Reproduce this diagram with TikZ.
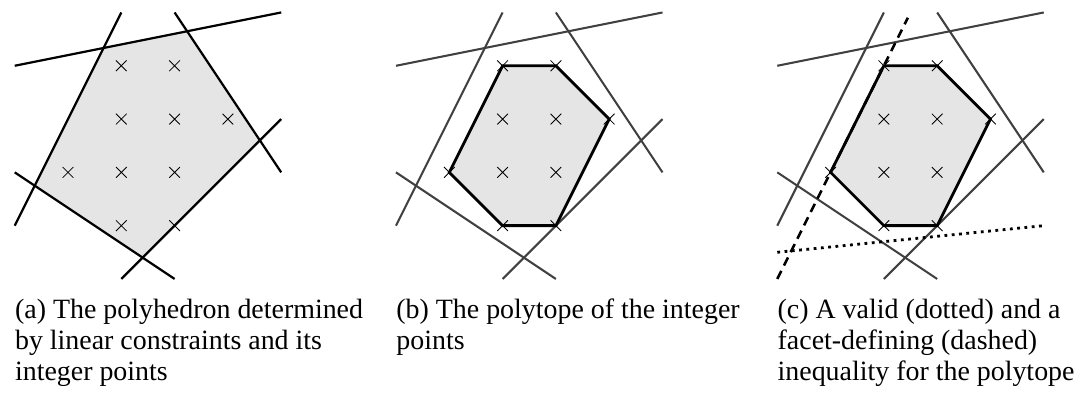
\documentclass[tikz,border=0pt]{standalone}
\usepackage{fontspec}
\setmainfont{Liberation Serif}
\usepackage{tikz}
\usetikzlibrary{positioning}

% integer points inside the polyhedron
\newcommand{\intpts}{(2,4),(3,4),(2,3),(3,3),(4,3),(1,2),(2,2),(3,2),(2,1),(3,1)}

\begin{document}
\begin{tikzpicture}[
  cons/.style={line width=1.2pt},
  consg/.style={line width=1.1pt, black!75},
  hull/.style={fill=black!10},
  poly/.style={draw, line width=1.5pt, line join=miter},
  ipt/.style={line width=0.45pt},
  facet/.style={line width=1.4pt, dash pattern=on 4.8pt off 3.2pt},
  valid/.style={line width=1.5pt, dash pattern=on 1.5pt off 2.4pt},
  subcap/.style={anchor=north west, align=left, inner sep=0pt, font=\fontsize{14.9}{16.4}\selectfont},
]
\useasboundingbox (-0.276,-2.233) rectangle (19.95,5.234);

% (a) polyhedron and its integer points
\fill[hull] (1.667,4.333) -- (3.235,4.647) -- (4.6,2.6) -- (2.4,0.4) -- (0.375,1.75) -- cycle;
\foreach \p in \intpts {\draw[ipt] \p +(-.1,-.1) -- +(.1,.1) \p +(-.1,.1) -- +(.1,-.1);}
\draw[cons] (0,4) -- (5,5);
\draw[cons] (2,5) -- (0,1);
\draw[cons] (3,5) -- (5,2);
\draw[cons] (5,3) -- (2,0);
\draw[cons] (0,2) -- (3,0);
\node[subcap] (capa) at (0,-0.338) {\strut(a) The polyhedron determined\\by linear constraints and its\\integer points};

% (b) integer hull
\begin{scope}[xshift=7.154cm]
\fill[hull] (2,4) -- (3,4) -- (4,3) -- (3,1) -- (2,1) -- (1,2) -- cycle;
\foreach \p in \intpts {\draw[ipt] \p +(-.1,-.1) -- +(.1,.1) \p +(-.1,.1) -- +(.1,-.1);}
\draw[consg] (0,4) -- (5,5);
\draw[consg] (2,5) -- (0,1);
\draw[consg] (3,5) -- (5,2);
\draw[consg] (5,3) -- (2,0);
\draw[consg] (0,2) -- (3,0);
\draw[poly] (2,4) -- (3,4) -- (4,3) -- (3,1) -- (2,1) -- (1,2) -- cycle;
\node[subcap] (capb) at (0,-0.338) {\strut(b) The polytope of the integer\\points};
\end{scope}

% (c) valid and facet-defining inequality
\begin{scope}[xshift=14.308cm]
\fill[hull] (2,4) -- (3,4) -- (4,3) -- (3,1) -- (2,1) -- (1,2) -- cycle;
\foreach \p in \intpts {\draw[ipt] \p +(-.1,-.1) -- +(.1,.1) \p +(-.1,.1) -- +(.1,-.1);}
\draw[consg] (0,4) -- (5,5);
\draw[consg] (2,5) -- (0,1);
\draw[consg] (3,5) -- (5,2);
\draw[consg] (5,3) -- (2,0);
\draw[consg] (0,2) -- (3,0);
\draw[poly] (2,4) -- (3,4) -- (4,3) -- (3,1) -- (2,1) -- (1,2) -- cycle;
\draw[valid] (0,0.5) -- (5,1);
\draw[facet] (0,0) -- (2.45,4.9);
\node[subcap] (capc) at (0,-0.338) {\strut(c) A valid (dotted) and a\\facet-defining (dashed)\\inequality for the polytope};
\end{scope}
\end{tikzpicture}
\end{document}
